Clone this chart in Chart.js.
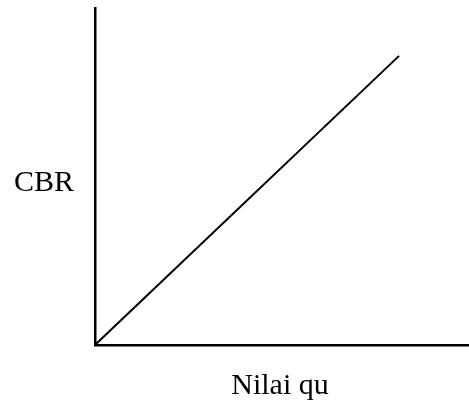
<!DOCTYPE html>
<html>
<head>
<meta charset="utf-8">
<script src="https://cdn.jsdelivr.net/npm/chart.js@4"></script>
<style>
html,body{margin:0;padding:0;background:#fff;}
#wrap{width:469px;height:413px;position:relative;}
</style>
</head>
<body>
<div id="wrap"><canvas id="c" width="469" height="413"></canvas></div>
<script>
const xValues = [0, 8.13];
const yValues = [0, 8.58];
const xAxisLabel = "Nilai qu";
const yAxisLabel = "CBR";

const points = xValues.map((x, i) => ({x: x, y: yValues[i]}));

const labelPlugin = {
  id: 'axisLabels',
  afterDraw(chart) {
    const ctx = chart.ctx;
    ctx.save();
    ctx.fillStyle = '#000';
    ctx.font = '30px "Liberation Serif", "Times New Roman", serif';
    ctx.textBaseline = 'middle';
    ctx.textAlign = 'center';
    ctx.fillText(yAxisLabel, 44, 183);
    ctx.fillText(xAxisLabel, 280, 386);
    ctx.restore();
  }
};

new Chart(document.getElementById('c'), {
  type: 'line',
  data: {
    datasets: [{
      data: points,
      borderColor: '#000',
      borderWidth: 2,
      pointRadius: 0,
      tension: 0,
      fill: false
    }]
  },
  options: {
    responsive: false,
    animation: false,
    devicePixelRatio: 1,
    layout: {padding: {left: 87, top: 8, right: 0, bottom: 60}},
    plugins: {legend: {display: false}, tooltip: {enabled: false}},
    scales: {
      x: {
        type: 'linear', min: 0, max: 10,
        grid: {display: false},
        ticks: {display: false},
        border: {display: true, color: '#000', width: 2.5}
      },
      y: {
        type: 'linear', min: 0, max: 10,
        grid: {display: false},
        ticks: {display: false},
        border: {display: true, color: '#000', width: 2.5}
      }
    }
  },
  plugins: [labelPlugin]
});
</script>
</body>
</html>
